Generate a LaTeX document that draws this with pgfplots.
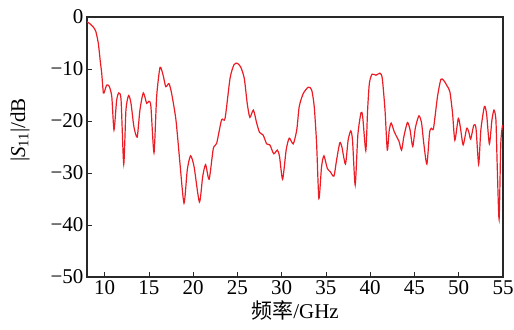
\documentclass[border=0pt]{standalone}
\usepackage{fontspec}
\setmainfont{Liberation Serif}
\newfontfamily\cjk{Noto Sans CJK SC}
\usepackage{pgfplots}
\pgfplotsset{compat=1.18}
\definecolor{curvered}{RGB}{236,28,36}
\definecolor{axgray}{RGB}{40,40,40}
\begin{document}
\begin{tikzpicture}
\begin{axis}[
  scale only axis,
  width=416pt, height=260pt,
  xmin=8, xmax=55, ymin=-50, ymax=0,
  xtick={10,15,...,55},
  ytick={-50,-40,-30,-20,-10,0},
  yticklabels={−50,−40,−30,−20,−10,0},
  tick align=inside,
  xtick pos=bottom, ytick pos=left,
  major tick length=5pt,
  axis line style={axgray, line width=1.1pt},
  tick style={axgray, line width=0.9pt},
  /pgf/number format/assume math mode=true,
  font=\fontsize{21}{25}\selectfont,
  ticklabel style={font=\fontsize{21}{25}\selectfont},
  xticklabel style={inner xsep=0pt},
  xlabel={{\cjk 频率}/GHz},
  ylabel={|\textit{S}\textsubscript{11}|/dB},
  xlabel style={yshift=1pt},
  ylabel style={yshift=14pt, xshift=17pt},
]
\addplot[curvered, line width=1.2pt, smooth, tension=0.4] coordinates {
(8.0,-0.9) (8.4,-1.4) (8.7,-1.9) (9.0,-2.8) (9.28,-5.1) (9.5,-8.5) (9.66,-10.8)
(9.85,-14.6) (10.0,-14.2) (10.22,-13.1) (10.5,-13.3) (10.8,-15.3) (11.05,-21.7)
(11.35,-16.0) (11.6,-14.6) (11.85,-16.0) (12.15,-28.3) (12.4,-17.9) (12.7,-15.1)
(12.97,-16.6) (13.3,-21.1) (13.67,-23.1) (13.98,-17.9) (14.36,-14.6) (14.74,-16.6)
(15.0,-16.2) (15.22,-17.2) (15.57,-26.1) (15.87,-15.3) (16.25,-9.7) (16.6,-11.2)
(16.9,-13.4) (17.26,-12.8) (17.56,-14.7) (18.05,-19.8) (18.5,-28.1) (18.96,-35.8)
(19.33,-29.4) (19.7,-26.7) (20.1,-28.8) (20.7,-35.6) (21.07,-30.7) (21.4,-28.4)
(21.8,-31.2) (22.27,-25.3) (22.65,-24.3) (23.2,-19.8) (23.6,-19.5) (24.16,-11.8)
(24.6,-9.2) (24.97,-8.9) (25.36,-9.6) (25.77,-11.8) (26.1,-16.6) (26.4,-19.3)
(26.8,-17.9) (27.17,-20.4) (27.5,-22.2) (27.9,-22.7) (28.3,-24.4) (28.66,-24.6)
(29.1,-26.3) (29.5,-25.6) (29.75,-26.8) (30.1,-31.2) (30.5,-25.6) (30.85,-23.3)
(31.3,-24.4) (31.7,-21.7) (31.98,-17.2) (32.44,-14.7) (33.0,-13.5) (33.38,-14.0)
(33.67,-17.2) (33.94,-24.3) (34.2,-34.9) (34.5,-28.8) (34.77,-26.7) (35.15,-29.1)
(35.5,-29.8) (35.9,-30.6) (36.2,-27.5) (36.56,-24.2) (36.8,-25.0) (37.2,-28.3)
(37.5,-23.7) (37.8,-21.9) (38.0,-23.7) (38.3,-32.3) (38.6,-22.7) (38.96,-18.4)
(39.15,-19.2) (39.5,-25.7) (39.7,-18.0) (39.9,-12.8) (40.2,-11.0) (40.65,-11.2)
(41.1,-10.8) (41.36,-11.8) (41.67,-17.9) (41.93,-25.6) (42.15,-21.7) (42.37,-20.4)
(42.7,-22.0) (42.98,-23.0) (43.25,-23.9) (43.54,-25.6) (43.8,-23.0) (44.2,-20.3)
(44.5,-21.7) (44.8,-24.9) (45.1,-21.3) (45.5,-19.0) (45.8,-20.4) (46.05,-24.3)
(46.4,-28.3) (46.7,-22.3) (46.9,-21.4) (47.15,-21.4) (47.6,-15.3) (47.98,-12.0)
(48.3,-12.2) (48.7,-13.3) (49.0,-14.4) (49.3,-18.5) (49.56,-23.7) (49.95,-19.5)
(50.2,-21.4) (50.5,-24.6) (50.9,-21.4) (51.15,-22.2) (51.35,-23.5) (51.7,-20.8)
(51.95,-21.4) (52.25,-28.3) (52.5,-21.7) (52.9,-17.2) (53.15,-18.7) (53.46,-24.4)
(53.75,-19.8) (53.98,-17.9) (54.2,-19.8) (54.35,-28.8) (54.56,-38.9) (54.75,-24.3)
(54.95,-20.8)
};
\end{axis}
\pgfresetboundingbox
\path[use as bounding box] ([shift={(-87pt,-53pt)}]current axis.south west) rectangle ([shift={(11pt,17pt)}]current axis.north east);
\end{tikzpicture}
\end{document}
